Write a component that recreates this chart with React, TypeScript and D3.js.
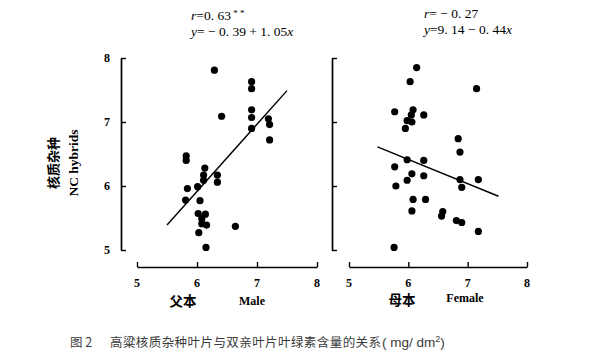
import { useEffect, useRef } from "react";
import * as d3 from "d3";

// parent chlorophyll (x) vs hybrid chlorophyll (y), mg/dm2
const maleX = [6.29, 6.91, 6.91, 6.91, 6.91, 6.41, 7.19, 7.21, 6.91, 7.21, 5.82, 5.82, 6.13, 6.11, 6.34, 6.11, 6.34, 6.01, 5.84, 5.81, 6.05, 6.02, 6.14, 6.08, 6.16, 6.08, 6.03, 6.64, 6.15];
const maleY = [7.81, 7.63, 7.52, 7.19, 7.07, 7.09, 7.05, 6.96, 6.9, 6.72, 6.47, 6.4, 6.28, 6.17, 6.17, 6.09, 6.06, 5.99, 5.96, 5.78, 5.77, 5.57, 5.56, 5.49, 5.39, 5.41, 5.27, 5.37, 5.04];
const femaleX = [6.14, 6.03, 7.15, 5.77, 6.08, 6.05, 6.26, 5.98, 6.06, 5.95, 6.84, 6.87, 5.98, 6.26, 5.77, 6.06, 6.26, 5.98, 6.87, 7.18, 5.79, 6.9, 6.08, 6.29, 6.06, 6.58, 6.56, 6.81, 6.9, 7.18, 5.76];
const femaleY = [7.85, 7.63, 7.52, 7.16, 7.19, 7.11, 7.11, 7.02, 7.0, 6.9, 6.74, 6.53, 6.41, 6.4, 6.3, 6.19, 6.16, 6.09, 6.1, 6.1, 6.0, 5.98, 5.79, 5.79, 5.61, 5.6, 5.53, 5.46, 5.43, 5.29, 5.04];

// fitted lines as drawn (x, y endpoints)
const maleLine: [number, number][] = [[5.5, 5.39], [7.5, 7.49]];
const femaleLine: [number, number][] = [[5.48, 6.61], [7.52, 5.84]];

const xTicks = [5, 6, 7, 8];
const yTicks = [5, 6, 7, 8];

export default function App() {
    const ref = useRef<SVGSVGElement>(null);

    useEffect(() => {
        if (!ref.current) return;
        const svg = d3.select(ref.current);
        svg.selectAll("*").remove();

        const y = d3.scaleLinear().domain([5, 8]).range([250, 58]);
        const serif = "'Liberation Serif', 'DejaVu Serif', serif";
        const cjk = "'Noto Sans CJK SC', sans-serif";

        const panels = [
            { xs: maleX, ys: maleY, line: maleLine, x0: 137, x1: 317, yAxisX: 121, yLabels: true },
            { xs: femaleX, ys: femaleY, line: femaleLine, x0: 349, x1: 527, yAxisX: 332, yLabels: false },
        ];

        panels.forEach((p) => {
            const x = d3.scaleLinear().domain([5, 8]).range([p.x0, p.x1]);
            const g = svg.append("g");

            // x axis, ticks pointing inward
            const xa = g.append("g").attr("transform", "translate(0,267)")
                .call(d3.axisTop(x).tickValues(xTicks).tickSize(5).tickFormat(() => "").tickSizeOuter(0));
            xa.select(".domain").attr("stroke-width", 1.7);
            xa.selectAll(".tick line").attr("stroke-width", 1.4);
            xTicks.forEach((t) => {
                g.append("text").attr("x", x(t)).attr("y", 287).attr("text-anchor", "middle")
                    .attr("font-family", serif).attr("font-weight", "bold").attr("font-size", 12).text(t);
            });

            // y axis, ticks pointing inward
            const ya = g.append("g").attr("transform", `translate(${p.yAxisX},0)`)
                .call(d3.axisRight(y).tickValues(yTicks).tickSize(5).tickFormat(() => "").tickSizeOuter(0));
            ya.select(".domain").attr("stroke-width", 1.7);
            ya.selectAll(".tick line").attr("stroke-width", 1.4);
            if (p.yLabels) {
                yTicks.forEach((t) => {
                    g.append("text").attr("x", 107).attr("y", y(t) + 4).attr("text-anchor", "middle")
                        .attr("font-family", serif).attr("font-weight", "bold").attr("font-size", 12).text(t);
                });
            }

            g.append("path")
                .attr("d", d3.line<[number, number]>().x((d) => x(d[0])).y((d) => y(d[1]))(p.line))
                .attr("stroke", "#000").attr("stroke-width", 1.4).attr("fill", "none");

            g.selectAll("circle.pt").data(p.xs).enter().append("circle")
                .attr("cx", (d) => x(d)).attr("cy", (_d, i) => y(p.ys[i])).attr("r", 3.6).attr("fill", "#000");
        });

        const italicText = (xPos: number, yPos: number, parts: [string, boolean][]) => {
            const t = svg.append("text").attr("x", xPos).attr("y", yPos)
                .attr("font-family", serif).attr("font-size", 13.5).style("white-space", "pre");
            parts.forEach(([s, it]) => t.append("tspan").attr("font-style", it ? "italic" : "normal").text(s));
            return t;
        };
        const r1 = italicText(191, 20, [["r", true], ["=0. 63", false]]);
        r1.append("tspan").attr("dy", -4).attr("font-size", 9).text(" * *");
        italicText(191, 36, [["y", true], ["= − 0. 39 + 1. 05", false], ["x", true]]);
        italicText(424, 18, [["r", true], ["= − 0. 27", false]]);
        italicText(424, 34, [["y", true], ["=9. 14 − 0. 44", false], ["x", true]]);

        // y label
        const yl = svg.append("g").attr("transform", "translate(0,163) rotate(-90)");
        yl.append("text").attr("x", 0).attr("y", 58).attr("text-anchor", "middle")
            .attr("font-family", cjk).attr("font-weight", "bold").attr("font-size", 13).text("核质杂种");
        yl.append("text").attr("x", 0).attr("y", 78).attr("text-anchor", "middle")
            .attr("font-family", serif).attr("font-weight", "bold").attr("font-size", 13.5).text("NC hybrids");

        // x labels
        svg.append("text").attr("x", 183).attr("y", 306).attr("text-anchor", "middle")
            .attr("font-family", cjk).attr("font-weight", "bold").attr("font-size", 13.5).text("父本");
        svg.append("text").attr("x", 252).attr("y", 305).attr("text-anchor", "middle")
            .attr("font-family", serif).attr("font-weight", "bold").attr("font-size", 12).text("Male");
        svg.append("text").attr("x", 402).attr("y", 305).attr("text-anchor", "middle")
            .attr("font-family", cjk).attr("font-weight", "bold").attr("font-size", 13.5).text("母本");
        svg.append("text").attr("x", 465).attr("y", 302).attr("text-anchor", "middle")
            .attr("font-family", serif).attr("font-weight", "bold").attr("font-size", 12).text("Female");

        // caption
        const capColor = "#3a3a3a";
        svg.append("text").attr("x", 70).attr("y", 347).attr("font-family", cjk)
            .attr("font-size", 12.5).attr("fill", capColor).style("white-space", "pre").text("图 2");
        svg.append("text").attr("x", 110).attr("y", 347).attr("font-family", cjk)
            .attr("font-size", 12.5).attr("fill", capColor).attr("textLength", 271)
            .attr("lengthAdjust", "spacing").text("高粱核质杂种叶片与双亲叶片叶绿素含量的关系");
        const unit = svg.append("text").attr("x", 382).attr("y", 347)
            .attr("font-family", "'Liberation Sans', Arial, sans-serif").attr("font-size", 13.5)
            .attr("fill", capColor).style("white-space", "pre");
        unit.append("tspan").text("( mg/ dm");
        unit.append("tspan").attr("dy", -5).attr("font-size", 9).text("2");
        unit.append("tspan").attr("dy", 5).text(")");
    }, []);

    return (
        <div style={{ position: "absolute", left: 0, top: 0 }}>
            <svg ref={ref} width={597} height={353} style={{ display: "block", background: "#fff" }} />
        </div>
    );
}
